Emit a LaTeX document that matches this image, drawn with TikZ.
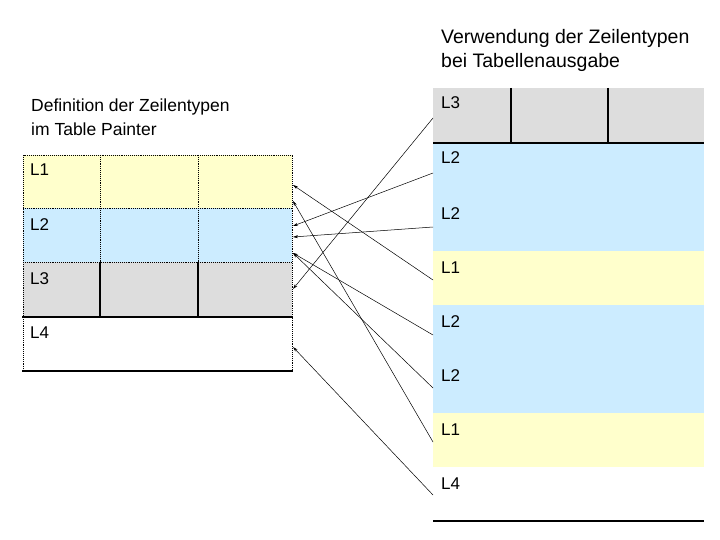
\documentclass[tikz,border=0pt]{standalone}
\usepackage{fontspec}
\setmainfont{Liberation Sans}
\usetikzlibrary{arrows.meta}
\definecolor{cy}{HTML}{FFFFCC}
\definecolor{cb}{HTML}{CCECFF}
\definecolor{cg}{HTML}{DDDDDD}
\begin{document}
\begin{tikzpicture}[x=1pt,y=-1pt,
  lab/.style={anchor=base west,font=\fontsize{17}{20}\selectfont,inner sep=0},
  ttl/.style={anchor=base west,font=\fontsize{17.5}{20}\selectfont,inner sep=0},
  ttr/.style={anchor=base west,font=\fontsize{19.5}{22}\selectfont,inner sep=0},
  dot/.style={densely dotted,line width=0.9pt},
  thick/.style={line width=2.2pt},
  ar/.style={-{Stealth[length=5pt,width=3pt]},line width=0.5pt}]
\useasboundingbox (0,0) rectangle (720,540);
% left table
\fill[cy] (23,155) rectangle (292,208);
\fill[cb] (23,208) rectangle (292,262);
\fill[cg] (23,262) rectangle (292,317);
\draw[dot] (23,371) -- (23,155) -- (292,155) -- (292,371);
\draw[dot] (23,208) -- (292,208) (23,262) -- (292,262);
\draw[dot] (100,155) -- (100,262) (198,155) -- (198,262);
\draw[thick] (100,262) -- (100,317) (198,262) -- (198,317);
\draw[thick] (22,317) -- (293,317);
\draw[line width=1.2pt] (22,371) -- (293,371);
\node[lab] (a1) at (30,176) {L1};
\node[lab] (a2) at (30,230) {L2};
\node[lab] (a3) at (30,284) {L3};
\node[lab] (a4) at (30,338) {L4};
\node[ttl] (t1a) at (31,112) {Definition der Zeilentypen};
\node[ttl] (t1b) at (31,136) {im Table Painter};
% right table
\fill[cg] (433,88) rectangle (704,143);
\fill[cb] (433,143) rectangle (704,251);
\fill[cy] (433,251) rectangle (704,305);
\fill[cb] (433,305) rectangle (704,413);
\fill[cy] (433,413) rectangle (704,467);
\draw[thick] (511,88) -- (511,143) (608,88) -- (608,143);
\draw[thick] (433,143) -- (704,143);
\draw[line width=1.2pt] (433,521) -- (704,521);
\node[lab] (b1) at (441,109) {L3};
\node[lab] (b2) at (441,164) {L2};
\node[lab] (b3) at (441,219) {L2};
\node[lab] (b4) at (441,273) {L1};
\node[lab] (b5) at (441,327) {L2};
\node[lab] (b6) at (441,381) {L2};
\node[lab] (b7) at (441,435) {L1};
\node[lab] (b8) at (441,489) {L4};
\node[ttr] (t2a) at (441,44) {Verwendung der Zeilentypen};
\node[ttr] (t2b) at (441,68) {bei Tabellenausgabe};
% connector points
\coordinate (r1) at (433,118); \coordinate (r2) at (433,173);
\coordinate (r3) at (433,227); \coordinate (r4) at (433,280);
\coordinate (r5) at (433,335); \coordinate (r6) at (433,388);
\coordinate (r7) at (433,442); \coordinate (r8) at (433,495);
\coordinate (p1) at (293,185); \coordinate (p2) at (293,201);
\coordinate (p3) at (293,226); \coordinate (p4) at (293,237);
\coordinate (p5) at (293,253); \coordinate (p6) at (293,289);
\coordinate (p7) at (293,347);
\draw[ar] (r1) -- (p6);
\draw[ar] (r2) -- (p3);
\draw[ar] (r3) -- (p4);
\draw[ar] (r4) -- (p1);
\draw[ar] (r5) -- (p5);
\draw[ar] (r6) -- (p5);
\draw[ar] (r7) -- (p2);
\draw[ar] (r8) -- (p7);
\end{tikzpicture}
\end{document}
